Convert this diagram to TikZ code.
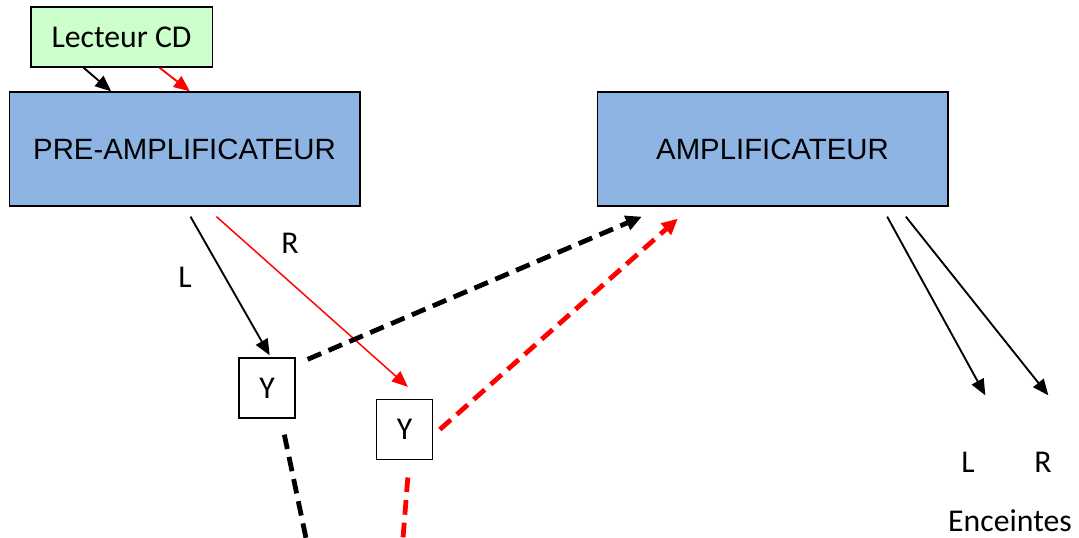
\documentclass[tikz,border=0pt]{standalone}
\usepackage{fontspec}
\setmainfont{Carlito}
\newfontfamily\arialfont{Liberation Sans}
\usetikzlibrary{arrows.meta}
\definecolor{boxblue}{HTML}{8EB4E3}
\definecolor{cdgreen}{HTML}{CCFFCC}
\tikzset{
    block/.style={draw, line width=1pt, fill=boxblue, minimum width=263pt, minimum height=85.5pt,
        font=\arialfont\fontsize{22}{26}\selectfont},
    ybox/.style={draw, line width=1pt, minimum width=42pt, minimum height=45pt},
    wire/.style={-{Triangle[length=12pt,width=10pt]}, line width=1.4pt},
    link/.style={line width=3.6pt, dash pattern=on 11pt off 6pt}
}
\begin{document}
\begin{tikzpicture}[x=0.75pt, y=-0.75pt, font=\fontsize{23.8}{28}\selectfont]
    \useasboundingbox (0,0) rectangle (1079,538);
    % sources and blocks
    \node[draw, line width=1pt, fill=cdgreen, minimum width=136pt, minimum height=45pt] (cd) at (121.5,37) {Lecteur CD};
    \node[block] (pre) at (184.5,149) {PRE-AMPLIFICATEUR};
    \node[block] (amp) at (772.5,149) {AMPLIFICATEUR};
    \node[ybox] (yl) at (267,388) {Y};
    \node[ybox] (yr) at (404.5,429.5) {Y};
    % labels
    \node (lbl) at (185,277) {L};
    \node (lbr) at (290,243) {R};
    \node (spl) at (968,462) {L};
    \node (spr) at (1043,462) {R};
    \node[inner sep=0pt] (spk) at (1010,521) {Enceintes};
    \coordinate (offl) at (306,538);
    \coordinate (offr) at (403,538);

    % cd to pre-amp
    \draw[wire] ([xshift=40pt]cd.south west) -- ([xshift=77pt]pre.north west);
    \draw[wire, red] ([xshift=97pt]cd.south west) -- ([xshift=136pt]pre.north west);
    % pre-amp to Y
    \draw[wire] ([xshift=136.5pt, yshift=-7.5pt]pre.south west) -- ([xshift=2pt, yshift=1.5pt]yl.north);
    \draw[wire, red, line width=1.1pt] ([xshift=156pt, yshift=-7.5pt]pre.south west) -- ([xshift=2.5pt, yshift=9pt]yr.north);
    % Y to amp
    \draw[link, -{Triangle[length=12pt,width=11pt]}] ([xshift=9pt, yshift=-1.5pt]yl.north east) -- ([xshift=34pt, yshift=-7.5pt]amp.south west);
    \draw[link, red, -{Triangle[length=12pt,width=11pt]}] ([xshift=5pt]yr.east) -- ([xshift=61pt, yshift=-9pt]amp.south west);
    \draw[link] ([xshift=13pt, yshift=-12pt]yl.south) -- (offl);
    \draw[link, red] ([xshift=2.5pt, yshift=-13pt]yr.south) -- (offr);
    % amp to speakers
    \draw[wire] ([xshift=218pt, yshift=-7.5pt]amp.south west) -- ([xshift=13pt, yshift=50pt]spl.center);
    \draw[wire] ([xshift=232pt, yshift=-7.5pt]amp.south west) -- ([xshift=4pt, yshift=50pt]spr.center);
\end{tikzpicture}
\end{document}
